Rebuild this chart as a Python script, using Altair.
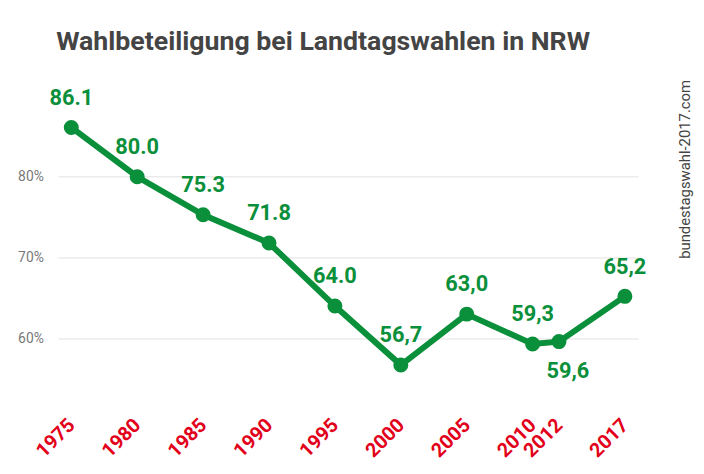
import altair as alt
import pandas as pd

years = [1975, 1980, 1985, 1990, 1995, 2000, 2005, 2010, 2012, 2017]
turnout = [86.1, 80.0, 75.3, 71.8, 64.0, 56.7, 63.0, 59.3, 59.6, 65.2]
labels = ["86.1", "80.0", "75.3", "71.8", "64.0", "56,7", "63,0", "59,3", "59,6", "65,2"]
label_below = [False, False, False, False, False, False, False, False, True, False]
y_ticks = [60, 70, 80]
title_text = "Wahlbeteiligung bei Landtagswahlen in NRW"
source_text = "bundestagswahl-2017.com"

GREEN = "#0a8f3a"
RED = "#e2001a"

df = pd.DataFrame({"year": years, "turnout": turnout, "label": labels, "below": label_below})

W, H = 586.7, 294.3
PL, PT = 50.7, 102.6

x = alt.X("year:Q",
          scale=alt.Scale(domain=[1974, 2018], nice=False, zero=False),
          axis=alt.Axis(values=years, format="d", title=None, labelAngle=-45,
                        labelAlign="right", labelBaseline="middle",
                        labelPadding=19, labelFontSize=20, labelFontWeight="bold",
                        labelColor=RED, labelFont="Roboto", domain=False, ticks=False,
                        grid=False, labelOverlap=False, labelFlush=False))
y = alt.Y("turnout:Q",
          scale=alt.Scale(domain=[52, 88], nice=False, zero=False),
          axis=alt.Axis(values=y_ticks, labelExpr="datum.value + '%'", title=None,
                        domain=False, ticks=False, labelPadding=15, labelFontSize=14,
                        labelColor="#777777", labelFont="Roboto",
                        gridColor="#ebebeb", gridWidth=1.5))

base = alt.Chart(df).encode(x=x, y=y)

line = base.mark_line(color=GREEN, strokeWidth=6)
points = base.mark_circle(color=GREEN, size=230, opacity=1)
above = base.transform_filter("!datum.below").mark_text(
    dy=-30, fontSize=22, fontWeight="bold", color=GREEN, font="Roboto",
    align="center", baseline="middle").encode(text="label:N")
below = base.transform_filter("datum.below").mark_text(
    dy=30, dx=9, fontSize=22, fontWeight="bold", color=GREEN, font="Roboto",
    align="center", baseline="middle").encode(text="label:N")

source = alt.Chart(pd.DataFrame({"t": [source_text]})).mark_text(
    angle=270, fontSize=15, color="#444444", font="Roboto",
    align="center", baseline="middle").encode(
    x=alt.value(634), y=alt.value(58), text="t:N")

chart = alt.layer(line, points, above, below, source).properties(
    width=W, height=H,
    title=alt.TitleParams(title_text, anchor="start", frame="group", offset=24, dx=-2,
                          fontSize=27, fontWeight="bold", color="#444444", font="Roboto"),
    autosize=alt.AutoSizeParams(type="none"),
    padding={"left": PL, "top": PT, "right": 696 - PL - W, "bottom": 466 - PT - H},
).configure(background="white").configure_view(strokeWidth=0)

chart.save("out.html", embed_options={"renderer": "svg", "actions": False})
